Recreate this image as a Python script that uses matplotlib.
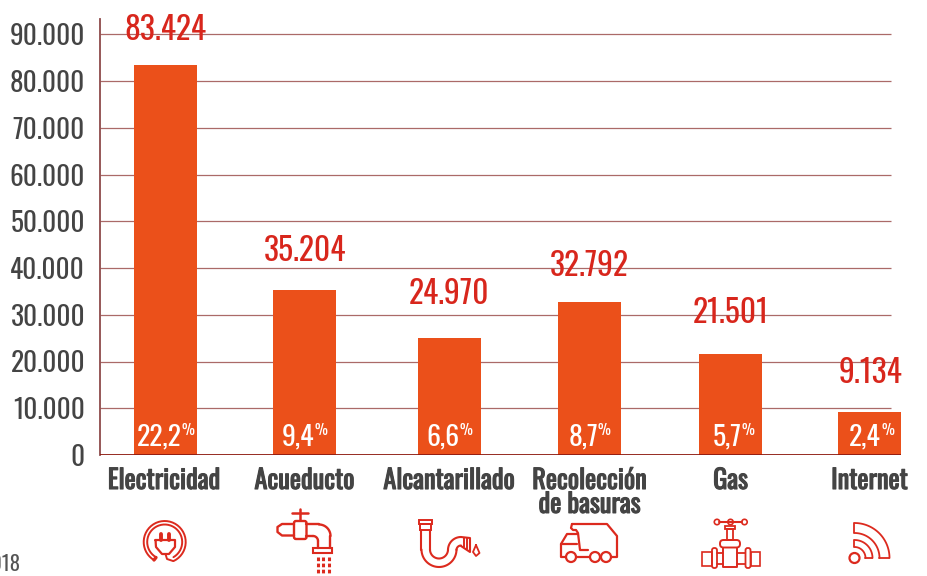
#!/usr/bin/env python3
"""
Hogares sin servicio por tipo de servicio publico
"""

import numpy as np
import matplotlib
matplotlib.use('Agg')
import matplotlib.pyplot as plt
import matplotlib.patheffects as pe
from matplotlib.patches import Circle, Rectangle, FancyBboxPatch

plt.rcParams['font.family'] = ['Oswald', 'Roboto', 'DejaVu Sans']

# datos
categories = ['Electricidad', 'Acueducto', 'Alcantarillado', 'Recolección\nde basuras', 'Gas', 'Internet']
values = [83424, 35204, 24970, 32792, 21501, 9134]
value_labels = ['83.424', '35.204', '24.970', '32.792', '21.501', '9.134']
shares = ['22,2', '9,4', '6,6', '8,7', '5,7', '2,4']
y_ticks = [0, 10000, 20000, 30000, 40000, 50000, 60000, 70000, 80000, 90000]
y_tick_labels = ['0', '10.000', '20.000', '30.000', '40.000', '50.000', '60.000', '70.000', '80.000', '90.000']

# posicion de las barras y textos, en pixeles desde el eje
bar_pos = [65, 204.5, 349.5, 489.5, 630.5, 769.5]
value_x = [65, 205, 349.5, 489.5, 631, 770]
value_gap = [25, 29, 34, 26, 31, 29]
share_right = [15, 8.5, 8.5, 7, 10, 10]
label_pos = [64, 204.5, 349, 489.5, 630.5, 769.5]

ORANGE = '#EB501A'
RED = '#D8261C'
GREY = '#444444'
ICON = '#DC2A1E'

W, H = 927, 576
PX = 0.72  # puntos por pixel a dpi 100
fig = plt.figure(figsize=(W / 100, H / 100), dpi=100)
ax = fig.add_axes([100 / W, 1 - 455 / H, (W - 100) / W, (455 - 19) / H])
ax.set_xlim(0, W - 100)
ax.set_ylim(0, 436 / 46.75 * 10000)
ax.patch.set_alpha(0)

ax.hlines(y_ticks[1:], 0, 791, color='#AB6A68', linewidth=0.9, zorder=1)
ax.bar(bar_pos, values, width=63, color=ORANGE, zorder=2)
ax.hlines(0, 0, 801, color='#8E1A10', linewidth=1.3, zorder=3)

for s in ['top', 'right', 'bottom']:
    ax.spines[s].set_visible(False)
ax.spines['left'].set_color('#8E4A4A')
ax.spines['left'].set_linewidth(1.3)

ax.set_xticks([])
ax.set_yticks(y_ticks)
ax.set_yticklabels(y_tick_labels, fontsize=19.6, color=GREY)
ax.tick_params(axis='y', length=0, pad=15 * PX)

for x, v, lab, gap in zip(value_x, values, value_labels, value_gap):
    ax.annotate(lab, (x, v), xytext=(0, gap * PX), textcoords='offset points',
                ha='center', va='baseline', fontsize=22.7, color=RED, zorder=4)

for x, s, r in zip(bar_pos, shares, share_right):
    ax.annotate(s, (x + r + 1.5, 0), xytext=(0, 10 * PX), textcoords='offset points',
                ha='right', va='baseline', fontsize=20, color='white', zorder=4)
    ax.annotate('%', (x + r + 1.5, 0), xytext=(0, 20 * PX), textcoords='offset points',
                ha='left', va='baseline', fontsize=10.5, color='white', zorder=4)

# Oswald solo trae un peso aqui, la negrita se hace con un trazo
for x, c in zip(label_pos, categories):
    t = ax.annotate(c, (x, 0), xytext=(0, -12 * PX), textcoords='offset points', ha='center', va='top',
                    fontsize=19, color=GREY, linespacing=0.86)
    t.set_path_effects([pe.withStroke(linewidth=0.8, foreground=GREY)])

fig.text(20.5 / W, 1 - 574 / H, '2018', ha='right', va='bottom', fontsize=15, color='#555555')

# iconos, dibujados en pixeles sobre toda la figura
ic = fig.add_axes([0, 0, 1, 1])
ic.set_xlim(0, W)
ic.set_ylim(H, 0)
ic.axis('off')
ic.patch.set_alpha(0)


def line(pts, lw=1.7):
    xs, ys = zip(*pts)
    ic.plot(xs, ys, color=ICON, linewidth=lw, solid_capstyle='round', solid_joinstyle='round')


def arc(cx, cy, r, a0, a1, lw=1.7):
    t = np.radians(np.linspace(a0, a1, 40))
    ic.plot(cx + r * np.cos(t), cy + r * np.sin(t), color=ICON, linewidth=lw, solid_capstyle='round')


def rect(x, y, w, h, lw=1.7):
    ic.add_patch(Rectangle((x, y), w, h, fill=False, edgecolor=ICON, linewidth=lw))


def circle(x, y, r, lw=1.7):
    ic.add_patch(Circle((x, y), r, fill=False, edgecolor=ICON, linewidth=lw))


def rbox(x, y, w, h, rad, lw=1.5):
    ic.add_patch(FancyBboxPatch((x, y), w, h, boxstyle='round,pad=0,rounding_size=%s' % rad,
                                fill=False, edgecolor=ICON, linewidth=lw))


# enchufe
arc(164.7, 542, 21, 120, 425, lw=1.4)
arc(164.7, 542, 17.5, 120, 420, lw=1.4)
line([(154, 560), (156, 557.5)], lw=2.4)
line([(155.5, 540), (175, 540), (175, 547), (169, 554), (162, 554), (156, 547), (155.5, 540)], lw=1.6)
line([(161, 540), (161, 534)], lw=2.8)
line([(169, 540), (169, 534)], lw=2.8)
line([(165.5, 554), (167, 559), (173, 561)], lw=1.4)

# grifo
line([(292, 512.5), (308, 512.5)], lw=1.8)
line([(300, 509), (300, 520)], lw=1.8)
rbox(294, 521, 12.5, 18, 2, lw=1.7)
line([(294, 524), (282, 524), (277.5, 527), (277.5, 532), (282, 535.5), (294, 535.5)], lw=1.7)
line([(306.5, 524), (319, 524)], lw=1.7)
arc(319, 536, 11.5, -90, 0, lw=1.7)
line([(330.5, 536), (330.5, 548)], lw=1.7)
line([(306.5, 536), (313, 536)], lw=1.7)
arc(313, 541, 5, -90, 0, lw=1.7)
line([(318, 541), (318, 548)], lw=1.7)
rect(313.5, 548, 19, 5, lw=1.5)
for dx in [318.5, 323.5, 329]:
    ic.plot([dx, dx], [557, 575], color=ICON, linewidth=2.2, linestyle=(0, (1.2, 0.8)))

# sifon de alcantarillado
rect(419.5, 519.5, 13, 4, lw=1.4)
rect(420.5, 524, 11, 6, lw=1.4)
line([(421.5, 530), (421.5, 549.5)], lw=1.5)
line([(430, 530), (430, 549.5)], lw=1.5)
arc(439, 549.5, 17.5, 0, 180, lw=1.5)
arc(439, 549.5, 9, 0, 180, lw=1.5)
arc(461, 550, 13, 180, 270, lw=1.5)
arc(461, 550, 4.5, 180, 270, lw=1.5)
line([(461, 537), (470, 538), (470, 552), (461, 546)], lw=1.5)
line([(464, 538), (464, 547)], lw=1.4)
line([(467, 538), (467, 549)], lw=1.4)
line([(476, 545), (473, 552), (476, 556), (479.5, 553), (476, 545)], lw=1.3)

# camion de basura
line([(572, 524), (607, 524), (617, 536), (617, 557), (611, 557)], lw=1.6)
line([(572, 524), (571, 528), (573, 530), (576, 530), (578, 533), (580, 550), (588, 550)], lw=1.6)
line([(577, 534), (567, 534), (561, 544), (561, 557), (566, 557)], lw=1.6)
line([(561, 544), (577, 544)], lw=1.6)
line([(576, 557), (590, 557)], lw=1.6)
circle(571, 557, 5, lw=1.6)
circle(595, 557, 5, lw=1.6)
circle(606, 557, 5, lw=1.6)

# valvula de gas
line([(719, 522), (742, 522)], lw=1.5)
circle(717, 522, 2.7, lw=1.2)
circle(730.5, 522, 2.7, lw=1.2)
circle(744.5, 522, 2.7, lw=1.2)
rect(725.5, 526, 10, 3, lw=1.3)
rect(727.5, 529, 6, 11, lw=1.3)
rbox(720, 540, 20, 7.5, 3.5, lw=1.4)
line([(723, 548), (723, 567), (737.5, 567), (737.5, 548)], lw=1.4)
rect(702, 551.5, 10, 14, lw=1.2)
rect(751, 551.5, 9, 14, lw=1.2)
rbox(712, 548, 5, 20, 2.2, lw=1.3)
rbox(745.5, 548, 5, 20, 2.2, lw=1.3)
line([(717, 553), (723, 553)], lw=1.3)
line([(717, 564), (723, 564)], lw=1.3)
line([(737.5, 553), (745.5, 553)], lw=1.3)
line([(737.5, 564), (745.5, 564)], lw=1.3)

# wifi
circle(854.5, 558, 5, lw=1.6)
arc(854.5, 558, 11, -90, 0, lw=1.3)
arc(854.5, 558, 18, -90, 0, lw=1.3)
arc(854.5, 558, 25, -90, 0, lw=1.3)
arc(854.5, 558, 35, -90, 0, lw=1.3)
line([(854.5, 533), (854.5, 523)], lw=1.3)
line([(854.5, 547), (854.5, 540)], lw=1.3)
line([(865.5, 558), (872.5, 558)], lw=1.3)
line([(879.5, 558), (889.5, 558)], lw=1.3)

fig.savefig('out.png', dpi=100)
